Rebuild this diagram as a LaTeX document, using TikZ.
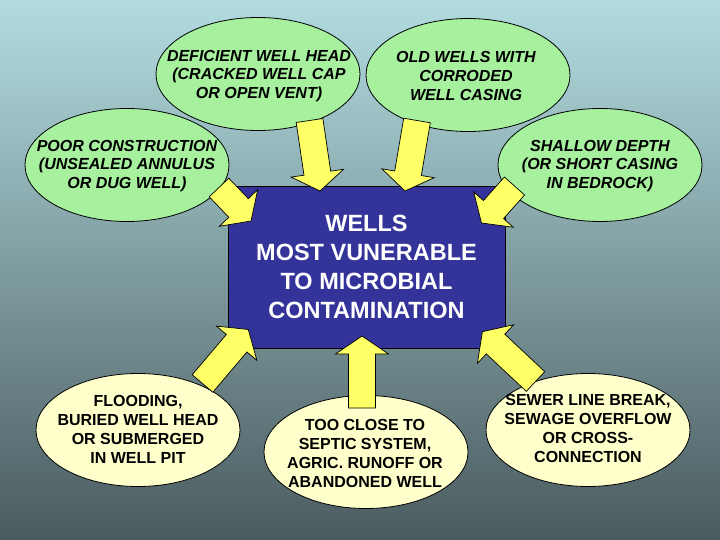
\documentclass[tikz,border=0pt]{standalone}
\usepackage{fontspec}
\setmainfont{Liberation Sans}
\usetikzlibrary{shapes.geometric,calc}
\definecolor{bgtop}{RGB}{178,220,224}
\definecolor{bgbot}{RGB}{74,91,95}
\definecolor{greenfill}{RGB}{166,240,158}
\definecolor{creamfill}{RGB}{255,255,204}
\definecolor{boxblue}{RGB}{51,51,153}
\definecolor{arrowyellow}{RGB}{255,255,102}
\tikzset{
  bubble/.style={ellipse, draw=black, line width=0.8pt, minimum width=204pt, minimum height=113pt, inner sep=0pt},
  greenbubble/.style={bubble, fill=greenfill},
  creambubble/.style={bubble, fill=creamfill},
  greentext/.style={align=center, inner sep=0pt, text=black, font=\bfseries\itshape\fontsize{16}{18.7}\selectfont},
  creamtext/.style={align=center, inner sep=0pt, text=black, font=\bfseries\fontsize{16}{19.2}\selectfont},
  mainbox/.style={rectangle, draw=black, line width=0.8pt, fill=boxblue, minimum width=277pt, minimum height=162pt, inner sep=0pt, align=center, text=white, font=\bfseries\fontsize{23.5}{29}\selectfont},
  blockarrow/.style={fill=arrowyellow, draw=black, line width=0.7pt, line join=miter}
}
\newcommand\blockarrow[2]{%
  \coordinate (bah) at ($(#2)!18pt!(#1)$);
  \draw[blockarrow] ($(#1)!13.5pt!90:(#2)$) -- ($(bah)!13.5pt!-90:(#1)$) -- ($(bah)!26.5pt!-90:(#1)$) -- (#2) -- ($(bah)!26.5pt!90:(#1)$) -- ($(bah)!13.5pt!90:(#1)$) -- ($(#1)!13.5pt!-90:(#2)$) -- cycle;
}
\begin{document}
\begin{tikzpicture}[x=1pt,y=-1pt]
\useasboundingbox (0,0) rectangle (720,540);
\shade[top color=bgtop, bottom color=bgbot] (0,0) rectangle (720,540);

\node[greenbubble] (e1) at (258,74) {};
\node[greentext] (e1t) at (259,76) {DEFICIENT WELL HEAD\\(CRACKED WELL CAP\\OR OPEN VENT)};
\node[greenbubble] (e2) at (468,75) {};
\node[greentext] (e2t) at (466,76) {OLD WELLS WITH\\CORRODED\\WELL CASING};
\node[greenbubble] (e3) at (127,165) {};
\node[greentext] (e3t) at (127,166) {POOR CONSTRUCTION\\(UNSEALED ANNULUS\\OR DUG WELL)};
\node[greenbubble] (e4) at (600,165) {};
\node[greentext] (e4t) at (600,166) {SHALLOW DEPTH\\(OR SHORT CASING\\IN BEDROCK)};
\node[creambubble] (e5) at (138,430) {};
\node[creamtext] (e5t) at (138,429.5) {FLOODING,\\BURIED WELL HEAD\\OR SUBMERGED\\IN WELL PIT};
\node[creambubble] (e6) at (366,452) {};
\node[creamtext] (e6t) at (365,453.5) {TOO CLOSE TO\\SEPTIC SYSTEM,\\AGRIC. RUNOFF OR\\ABANDONED WELL};
\node[creambubble] (e7) at (588,430) {};
\node[creamtext] (e7t) at (588,428.5) {SEWER LINE BREAK,\\SEWAGE OVERFLOW\\OR CROSS-\\CONNECTION};

\node[mainbox] (box) at (366.5,267) {WELLS\\MOST VUNERABLE\\TO MICROBIAL\\CONTAMINATION};

\coordinate (t1) at (309.5,120.5); \coordinate (p1) at (320,191);
\coordinate (t2) at (417,120.5);   \coordinate (p2) at (405,191);
\coordinate (t3) at (219,187.5);   \coordinate (p3) at (251,221);
\coordinate (t4) at (514.5,186);   \coordinate (p4) at (481.5,223);
\coordinate (t5) at (202.5,383.5); \coordinate (p5) at (248.3,329.5);
\coordinate (t6) at (362,408);     \coordinate (p6) at (362,336);
\coordinate (t7) at (535.5,381.5); \coordinate (p7) at (482.4,331.7);

\blockarrow{t1}{p1}
\blockarrow{t2}{p2}
\blockarrow{t3}{p3}
\blockarrow{t4}{p4}
\blockarrow{t5}{p5}
\blockarrow{t6}{p6}
\blockarrow{t7}{p7}
\end{tikzpicture}
\end{document}
